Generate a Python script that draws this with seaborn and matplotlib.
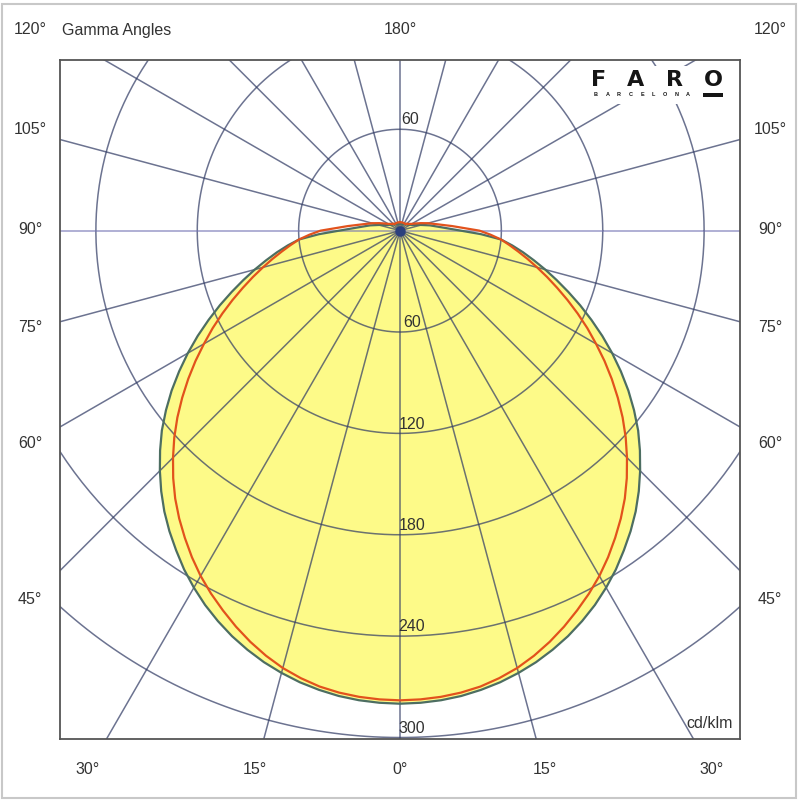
import numpy as np
import pandas as pd
import seaborn as sns
import matplotlib.pyplot as plt
from matplotlib.patches import Rectangle

# Photometric data (cd/klm), gamma in degrees
gamma = [0, 2.5, 5, 7.5, 10, 12.5, 15, 17.5, 20, 22.5, 25, 27.5, 30, 32.5, 35, 37.5, 40, 42.5,
         45, 47.5, 50, 52.5, 55, 57.5, 60, 62.5, 65, 67.5, 70, 72.5, 75, 77.5, 80, 82.5, 85, 87.5, 90,
         95, 100, 105, 110, 115, 120, 125, 130, 135, 140, 145, 150, 155, 160, 165, 170, 175, 180]
c0_c180 = [280, 279.7, 279, 277.8, 276, 273.8, 271, 267.8, 264, 259.8, 255, 249.8, 244, 237.8,
           231, 224.2, 217, 209.2, 201, 192.6, 184, 174.6, 165, 155, 145, 135, 125, 115.4, 106,
           97.2, 89, 81.2, 74, 67, 60, 48, 36,
           24, 18, 13, 10, 8, 7, 6, 6, 5, 5, 5, 5, 4, 4, 4, 4, 4, 4]
c90_c270 = [278, 277.7, 277, 275.8, 274, 271.3, 268, 263.8, 259, 253.7, 248, 242.2, 236, 229.2,
            222, 214.7, 207, 198.7, 190, 181.2, 172, 162.5, 153, 143.5, 134, 125, 116, 107.3, 99,
            91.3, 84, 77.3, 71, 65.3, 60, 53.5, 47,
            31, 22, 17, 13, 10, 8, 7, 6, 6, 5, 5, 5, 5, 5, 5, 5, 5, 5]

ring_values = [60, 120, 180, 240, 300]
spoke_angles = list(range(0, 360, 15))
side_labels = ['120°', '105°', '90°', '75°', '60°', '45°']
bottom_labels = ['30°', '15°', '0°', '15°', '30°']


def to_xy(g, vals):
    # mirror the half plane: left side then right side, gamma measured from nadir
    g = np.radians(np.asarray(g, dtype=float))
    v = np.asarray(vals, dtype=float)
    ang = np.r_[g[::-1], g[1:]]
    r = np.r_[v[::-1], v[1:]]
    sign = np.r_[-np.ones(len(g)), np.ones(len(g) - 1)]
    return pd.DataFrame({'x': sign * r * np.sin(ang), 'y': -r * np.cos(ang),
                         'n': np.arange(len(ang))})


sns.set_theme(style='white')
plt.rcParams['font.family'] = ['Liberation Sans', 'DejaVu Sans']

fig = plt.figure(figsize=(8, 8), dpi=100)
ax = fig.add_axes([0.075, 0.076, 0.85, 0.849])

df0 = to_xy(gamma, c0_c180)
df90 = to_xy(gamma, c90_c270)

# filled C0-C180 curve
ax.fill(df0['x'], df0['y'], color='#fdfa88', zorder=1, lw=0)

# grid: rings and spokes
grid_col = (0.2, 0.24, 0.4)
t = np.linspace(0, 2 * np.pi, 400)
for rv in ring_values:
    ax.plot(rv * np.cos(t), rv * np.sin(t), color=grid_col, alpha=0.72, lw=1.1, zorder=2)
for a in spoke_angles:
    ar = np.radians(a)
    col = (0.45, 0.45, 0.7) if a in (90, 270) else grid_col
    ax.plot([0, 600 * np.sin(ar)], [0, -600 * np.cos(ar)], color=col, alpha=0.72, lw=1.1, zorder=2)

# curves
sns.lineplot(data=df0, x='x', y='y', sort=False, estimator=None, color='#4d6e62', lw=1.6,
             ax=ax, zorder=3, solid_joinstyle='round')
sns.lineplot(data=df90, x='x', y='y', sort=False, estimator=None, color='#e2521c', lw=1.6,
             ax=ax, zorder=4, solid_joinstyle='round')
ax.plot(0, 0, 'o', color='#2b3f7e', ms=6.5, zorder=5)

ax.set_xlim(-201, 201)
ax.set_ylim(-301, 101)
ax.set_aspect('equal')
ax.set_xticks([])
ax.set_yticks([])
ax.set_xlabel('')
ax.set_ylabel('')
for s in ax.spines.values():
    s.set_color('#555555')
    s.set_linewidth(1.3)

txt = '#333333'
fs = 11.5
# intensity labels
ax.text(6, 66, '60', ha='center', va='center', fontsize=fs, color=txt, zorder=6)
for rv in ring_values:
    ax.text(7, -(rv - 5.5), str(rv), ha='center', va='center', fontsize=fs, color=txt, zorder=6)
ax.text(197, -292, 'cd/klm', ha='right', va='center', fontsize=fs, color=txt, zorder=6)

# gamma angle labels around the frame
side_y = [30, 130, 230, 328, 443, 600]
for lab, py in zip(side_labels, side_y):
    fig.text(30 / 800, 1 - py / 800, lab, ha='center', va='center', fontsize=fs, color=txt)
    fig.text(770 / 800, 1 - py / 800, lab, ha='center', va='center', fontsize=fs, color=txt)
bottom_x = [88, 255, 400, 545, 712]
for lab, px in zip(bottom_labels, bottom_x):
    fig.text(px / 800, 1 - 770 / 800, lab, ha='center', va='center', fontsize=fs, color=txt)
fig.text(400 / 800, 1 - 30 / 800, '180°', ha='center', va='center', fontsize=fs, color=txt)
fig.text(62 / 800, 1 - 30 / 800, 'Gamma Angles', ha='left', va='center', fontsize=fs, color=txt)

# FARO logo
fig.add_artist(Rectangle((582 / 800, 1 - 104 / 800), 146 / 800, 38 / 800,
                         transform=fig.transFigure, facecolor='white', edgecolor='none', zorder=5))
for lab, px in zip(['F', 'A', 'R', 'O'], [599, 636, 675, 713]):
    fig.text(px / 800, 1 - 80 / 800, lab, ha='center', va='center', fontsize=16,
             fontweight='bold', color='#151515', zorder=6, family='DejaVu Sans')
for lab, px in zip('BARCELONA', np.linspace(596, 688, 9)):
    fig.text(px / 800, 1 - 95 / 800, lab, ha='center', va='center', fontsize=4,
             fontweight='bold', color='#151515', zorder=6)
fig.add_artist(Rectangle((703 / 800, 1 - 97 / 800), 20 / 800, 4 / 800,
                         transform=fig.transFigure, facecolor='#151515', edgecolor='none', zorder=6))

# outer border
fig.add_artist(Rectangle((0.003, 0.003), 0.992, 0.992, transform=fig.transFigure,
                         fill=False, edgecolor='#c8c8c8', lw=1.5))

fig.savefig('out.png', dpi=100)
